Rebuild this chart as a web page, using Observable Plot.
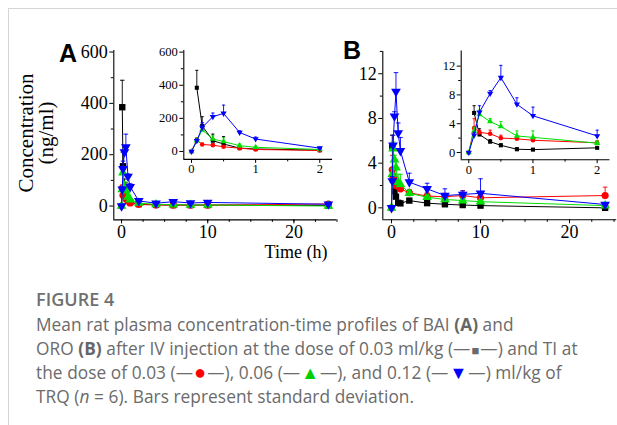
<!DOCTYPE html>
<html><head><meta charset="utf-8">
<script src="https://cdn.jsdelivr.net/npm/d3@7"></script>
<script src="https://cdn.jsdelivr.net/npm/@observablehq/plot@0.6"></script>
<style>
body{margin:0;background:#fff;}
#wrap{position:relative;width:617px;height:425px;overflow:hidden;background:#fff;}
.layer{position:absolute;left:0;top:0;}
.layer text{font-family:"Liberation Serif","Times New Roman",serif !important;}
.frameL{position:absolute;left:8px;top:8px;width:1px;height:420px;background:#d4d4d4;}
.frameT{position:absolute;left:8px;top:8px;width:620px;height:1px;background:#d4d4d4;}
.panel{position:absolute;font-family:"Liberation Sans",Arial,sans-serif;font-weight:bold;font-size:25px;color:#000;line-height:1;}
.ylab{position:absolute;font-family:"Liberation Serif","Times New Roman",serif;font-size:21px;line-height:20px;text-align:center;white-space:nowrap;transform:translate(-50%,-50%) rotate(-90deg);}
.xlab{position:absolute;font-family:"Liberation Serif","Times New Roman",serif;font-size:18px;white-space:nowrap;transform:translate(-50%,-50%);}
.cap{position:absolute;left:36px;font-family:"Open Sans","Noto Sans",sans-serif;color:#6b6b6b;font-size:17.3px;line-height:23.2px;height:23.2px;white-space:nowrap;letter-spacing:0.05px;}
.cap.fig{font-weight:600;font-size:18px;color:#707070;}
.cap b{font-weight:700;color:#666;}
.cap .sym{display:inline-block;line-height:10px;margin:0 1px;}
</style></head><body><div id="wrap"></div>
<script>
// ---------- data ----------
const times = [0, 0.083, 0.167, 0.333, 0.5, 0.75, 1, 2, 4, 6, 8, 10, 24];
const seriesKeys = ["IV 0.03", "TI 0.03", "TI 0.06", "TI 0.12"];
// Panel A: BAI (ng/ml)
const baiIV   = [null, 385, 155, 65, 45, 20, 15, 8, 5, 4, 4, 4, 2];
const baiIVsd = [null, 105, 55, 40, 45, 10, 8, 3, 2, 2, 2, 2, 1];
const baiT03   = [0, 70, 42, 38, 28, 20, 12, 6, 4, 3, 3, 3, 8];
const baiT03sd = [0, 12, 8, 10, 8, 5, 4, 2, 1, 1, 1, 1, 3];
const baiT06   = [0, 65, 130, 75, 60, 35, 25, 12, 6, 5, 4, 4, 0];
const baiT06sd = [0, 10, 20, 20, 22, 10, 6, 3, 2, 2, 2, 2, 1];
const baiT12   = [0, 65, 145, 210, 230, 115, 75, 20, 11, 17, 12, 14, 7];
const baiT12sd = [0, 10, 30, 22, 50, 10, 12, 5, 3, 4, 3, 3, 2];
// Panel B: ORO (ng/ml)
const oroIV   = [null, 5.5, 2.5, 1.5, 1.0, 0.45, 0.4, 0.65, 0.42, 0.32, 0.25, 0.2, 0];
const oroIVsd = [null, 1.0, 0.8, 0.3, 0.2, 0.2, 0.1, 0.15, 0.1, 0.1, 0.1, 0.1, 0.05];
const oroT03   = [0, 3.4, 2.8, 2.6, 2.0, 1.9, 1.7, 1.35, 1.05, 1.0, 1.1, 0.9, 1.1];
const oroT03sd = [0, 1.3, 0.3, 0.5, 0.4, 0.3, 0.4, 0.3, 0.3, 0.3, 0.45, 0.3, 0.75];
const oroT06   = [0, 3.0, 5.3, 4.3, 3.6, 2.3, 2.1, 1.3, 0.95, 0.75, 0.65, 0.55, 0.2];
const oroT06sd = [0, 0.5, 0.6, 0.4, 0.7, 0.7, 0.9, 0.3, 0.2, 0.2, 0.2, 0.1, 0.1];
const oroT12   = [0, 2.4, 5.6, 8.2, 10.4, 6.7, 5.1, 2.3, 1.7, 1.1, 1.2, 1.3, 0.3];
const oroT12sd = [0, 0.4, 0.9, 0.4, 1.7, 0.9, 1.2, 0.8, 0.5, 0.6, 0.3, 1.3, 0.1];
// tick labels
const ticksMainAx = [0, 10, 20], ticksMainAy = [0, 200, 400, 600];
const ticksMainBx = [0, 10, 20], ticksMainBy = [0, 4, 8, 12];
const ticksInsetx = [0, 1, 2];
const ticksInsetAy = [0, 200, 400, 600], ticksInsetBy = [0, 4, 8, 12];

// ---------- styling ----------
const colors = {"IV 0.03": "#000000", "TI 0.03": "#ff0000", "TI 0.06": "#00e000", "TI 0.12": "#0000ff"};
const serif = "'Liberation Serif','Times New Roman',serif";
const sq3 = Math.sqrt(3);
const triDown = {draw(ctx, size) {
  const y = -Math.sqrt(size / (sq3 * 3));
  ctx.moveTo(0, -y * 2); ctx.lineTo(-sq3 * y, y); ctx.lineTo(sq3 * y, y); ctx.closePath();
}};
const capSym = {draw(ctx, size) { const w = Math.sqrt(size) / 2; ctx.moveTo(-w, 0); ctx.lineTo(w, 0); }};
const symbols = {"IV 0.03": "square", "TI 0.03": "circle", "TI 0.06": "triangle", "TI 0.12": triDown};

function build(vals) {
  const rows = [];
  seriesKeys.forEach((k, i) => {
    const [v, sd] = vals[i];
    times.forEach((t, j) => { if (v[j] != null) rows.push({series: k, t, y: v[j], sd: sd[j]}); });
  });
  return rows;
}
const dataA = build([[baiIV, baiIVsd], [baiT03, baiT03sd], [baiT06, baiT06sd], [baiT12, baiT12sd]]);
const dataB = build([[oroIV, oroIVsd], [oroT03, oroT03sd], [oroT06, oroT06sd], [oroT12, oroT12sd]]);

const W = 617, H = 260;
function panel({data, xd, yd, m, xt, xminor, yt, yminor, fs, r, capR, maxT}) {
  const d = data.filter(e => e.t <= maxT);
  const fmt = v => String(v);
  const marks = [
    Plot.ruleX([xd[0]], {stroke: "#000", strokeWidth: 1.1}),
    Plot.ruleY([yd[0]], {stroke: "#000", strokeWidth: 1.1}),
    Plot.axisX({ticks: xminor, tickSize: 2.5, tickFormat: () => "", stroke: "#000"}),
    Plot.axisY({ticks: yminor, tickSize: 2.5, tickFormat: () => "", stroke: "#000"}),
    Plot.axisX({ticks: xt, tickSize: 4, tickPadding: 1, tickFormat: fmt, stroke: "#000", fill: "#000", fontFamily: serif, fontSize: fs}),
    Plot.axisY({ticks: yt, tickSize: 4, tickPadding: 2, tickFormat: fmt, stroke: "#000", fill: "#000", fontFamily: serif, fontSize: fs})
  ];
  for (const k of seriesKeys) {
    const s = d.filter(e => e.series === k);
    const c = colors[k];
    marks.push(
      Plot.ruleX(s.filter(e => e.sd > 0), {x: "t", y1: "y", y2: e => e.y + e.sd, stroke: c, strokeWidth: 0.9}),
      Plot.dot(s.filter(e => e.sd > 0), {x: "t", y: e => e.y + e.sd, symbol: capSym, r: capR, fill: "none", stroke: c, strokeWidth: 0.9}),
      Plot.line(s, {x: "t", y: "y", stroke: c, strokeWidth: 1}),
      Plot.dot(s, {x: "t", y: "y", symbol: symbols[k], r, fill: c, stroke: "none"})
    );
  }
  const svg = Plot.plot({
    width: W, height: H,
    marginLeft: m[0], marginRight: W - m[1], marginTop: m[2], marginBottom: H - m[3],
    x: {domain: xd, label: null, axis: null},
    y: {domain: yd, label: null, axis: null},
    style: {fontSize: fs + "px", color: "#000", background: "transparent", overflow: "visible"},
    marks
  });
  svg.setAttribute("font-family", serif);
  svg.querySelectorAll("text").forEach(t => { t.style.fontFamily = serif; });
  return svg;
}

const wrap = document.getElementById("wrap");
wrap.insertAdjacentHTML("beforeend", '<div class="frameL"></div><div class="frameT"></div>');
const specs = [
  {data: dataA, xd: [-0.9, 25], yd: [-54, 606], m: [113.3, 336.5, 50, 219.4], xt: ticksMainAx, xminor: d3.range(0, 25.1, 2.5), yt: ticksMainAy, yminor: [100, 300, 500], fs: 18, r: 3.6, capR: 2.6, maxT: 24},
  {data: dataA, xd: [-0.12, 2.2], yd: [-48, 610], m: [183.3, 332.1, 50, 158.9], xt: ticksInsetx, xminor: [0.5, 1.5], yt: ticksInsetAy, yminor: [100, 300, 500], fs: 12.5, r: 2.3, capR: 1.8, maxT: 2},
  {data: dataB, xd: [-0.98, 25.3], yd: [-1.07, 14], m: [382.3, 616.2, 50.9, 219.3], xt: ticksMainBx, xminor: d3.range(0, 25.1, 2.5), yt: ticksMainBy, yminor: [2, 6, 10, 14], fs: 18, r: 3.6, capR: 2.6, maxT: 24},
  {data: dataB, xd: [-0.118, 2.2], yd: [-1, 14.1], m: [460.7, 609.5, 50.5, 159.2], xt: ticksInsetx, xminor: [0.5, 1.5], yt: ticksInsetBy, yminor: [2, 6, 10], fs: 12.5, r: 2.3, capR: 1.8, maxT: 2}
];
for (const sp of specs) {
  const el = panel(sp);
  el.classList.add("layer");
  wrap.appendChild(el);
}
const capLines = [
  'Mean rat plasma concentration-time profiles of BAI <b>(A)</b> and',
  'ORO <b>(B)</b> after IV injection at the dose of 0.03 ml/kg (—<span class="sym" style="font-size:13px">■</span>—) and TI at',
  'the dose of 0.03 (—<span class="sym" style="color:#ff0000;font-size:20px">●</span>—), 0.06 (—<span class="sym" style="color:#00d000;font-size:18px">▲</span>—), and 0.12 (—<span class="sym" style="color:#0000ff;font-size:18px">▼</span>—) ml/kg of',
  'TRQ (<i>n</i> = 6). Bars represent standard deviation.'
];
let html = `
<div class="panel" style="left:59px;top:41px;">A</div>
<div class="panel" style="left:343px;top:38px;">B</div>
<div class="ylab" style="left:36px;top:133px;">Concentration<br>(ng/ml)</div>
<div class="xlab" style="left:296px;top:252px;">Time (h)</div>
<div class="cap fig" style="top:288px;">FIGURE 4</div>`;
capLines.forEach((l, i) => { html += `<div class="cap" style="top:${313 + i * 24}px;">${l}</div>`; });
wrap.insertAdjacentHTML("beforeend", html);
</script></body></html>
